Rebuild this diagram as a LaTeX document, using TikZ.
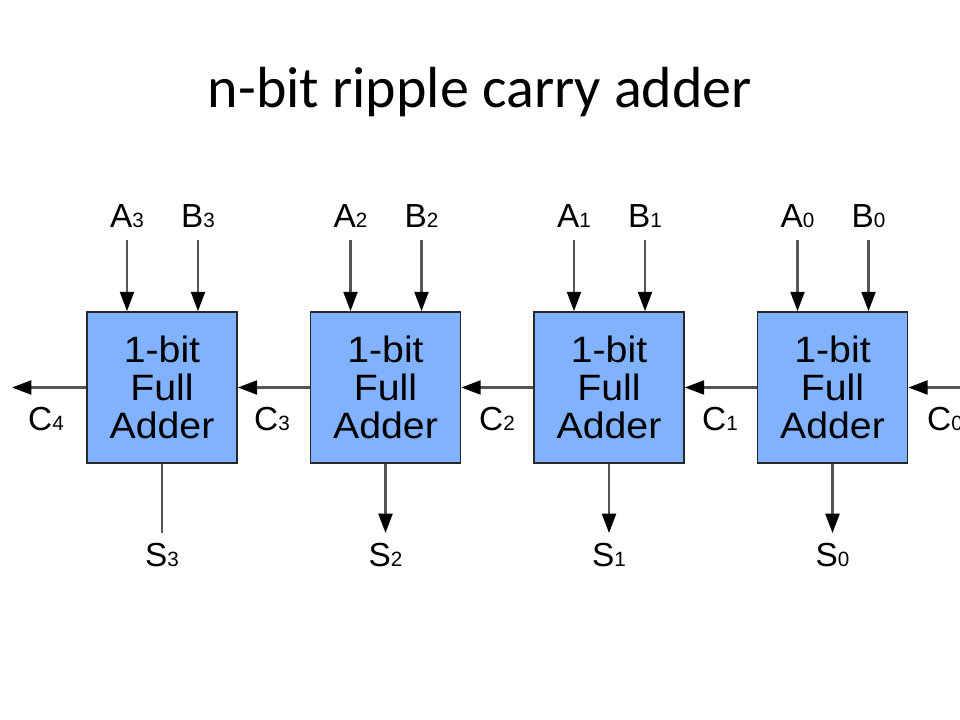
\documentclass[tikz,border=0pt]{standalone}
\usepackage{fontspec}
\setmainfont{Liberation Sans}
\newfontfamily\titlefont{Carlito}
\newfontfamily\boxfont[FakeStretch=1.07]{Liberation Sans}
\usetikzlibrary{arrows.meta}
\definecolor{boxblue}{RGB}{128,178,255}
\definecolor{boxborder}{RGB}{40,40,40}
\definecolor{wiregray}{RGB}{85,85,85}
\newcommand\subdig[1]{{\fontsize{15.5}{15.5}\selectfont #1}}
\begin{document}
\begin{tikzpicture}[x=0.75pt,y=-0.75pt,
  fa/.style={draw=boxborder, line width=1.3pt, fill=boxblue,
    minimum width=112.5pt, minimum height=113.25pt, inner sep=0pt,
    align=center, font=\boxfont\fontsize{27.5}{28.5}\selectfont},
  wire/.style={draw=wiregray, line width=1.7pt},
  arr/.style={wire, -{Triangle[length=14.5pt,width=10.5pt,color=black]}},
  lbl/.style={inner sep=0pt, anchor=base, font=\fontsize{25}{25}\selectfont},
  titletext/.style={inner sep=0pt, anchor=base, font=\titlefont\fontsize{43.5}{43.5}\selectfont}]
\useasboundingbox[clip] (0,0) rectangle (960,720);
\fill[white] (0,0) rectangle (960,720);
\node[titletext] (title) at (480,108) {n-bit ripple carry adder};
% blocks
\foreach \i/\x in {3/162,2/385.5,1/609,0/832.5}{
  \node[fa] (fa\i) at (\x,387.5) {1-bit\\Full\\Adder};
  \node[lbl] (a\i) at (\x-35,228) {A\subdig{\i}};
  \node[lbl] (b\i) at (\x+36,228) {B\subdig{\i}};
  \coordinate (at\i) at (\x-35,240);
  \coordinate (bt\i) at (\x+36,240);
  \draw[arr] (at\i) -- (at\i |- fa\i.north);
  \draw[arr] (bt\i) -- (bt\i |- fa\i.north);
  \node[lbl] (s\i) at (\x,566) {S\subdig{\i}};
  \coordinate (se\i) at (\x,533);
}
\draw[wire] (fa3.south) -- (se3);
\foreach \i in {2,1,0}{ \draw[arr] (fa\i.south) -- (se\i); }
% carries
\draw[arr] (fa0.west) -- (fa1.east);
\draw[arr] (fa1.west) -- (fa2.east);
\draw[arr] (fa2.west) -- (fa3.east);
\coordinate (c4end) at (12,387.5);
\draw[arr] (fa3.west) -- (c4end);
\coordinate (c0start) at (975,387.5);
\draw[arr] (c0start) -- (fa0.east);
\node[lbl] (c4) at (46,430) {C\subdig{4}};
\node[lbl] (c3) at (272,430) {C\subdig{3}};
\node[lbl] (c2) at (497,430) {C\subdig{2}};
\node[lbl] (c1) at (720,430) {C\subdig{1}};
\node[lbl] (c0) at (945,430) {C\subdig{0}};
\end{tikzpicture}
\end{document}
